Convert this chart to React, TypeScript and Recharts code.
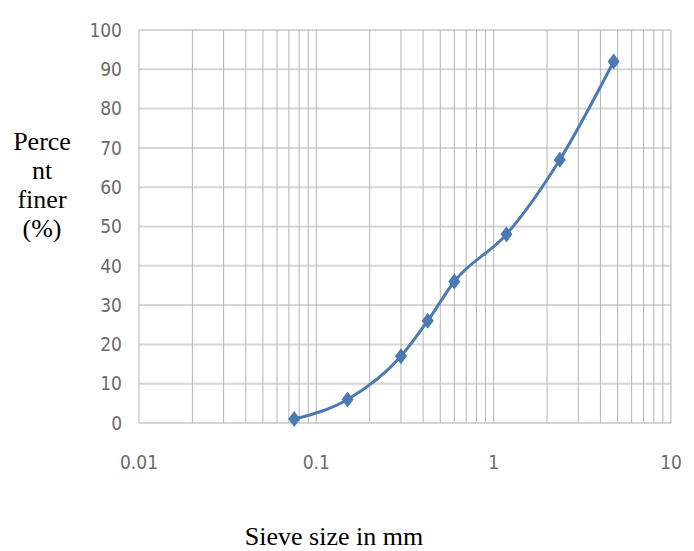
import { LineChart, Line, XAxis, YAxis, CartesianGrid } from "recharts"

// sieve analysis values
const SIEVE_SIZES = [0.075, 0.15, 0.3, 0.425, 0.6, 1.18, 2.36, 4.75]
const PERCENT_FINER = [1, 6, 17, 26, 36, 48, 67, 92]

const X_TICKS = [
  0.01, 0.02, 0.03, 0.04, 0.05, 0.06, 0.07, 0.08, 0.09,
  0.1, 0.2, 0.3, 0.4, 0.5, 0.6, 0.7, 0.8, 0.9,
  1, 2, 3, 4, 5, 6, 7, 8, 9,
  10,
]
const X_LABELS = ["0.01", "0.1", "1", "10"]
const Y_TICKS = [0, 10, 20, 30, 40, 50, 60, 70, 80, 90, 100]

const data = SIEVE_SIZES.map((size, i) => ({ size, finer: PERCENT_FINER[i] }))

const LINE_COLOR = "#4b79b1"
const TICK_STYLE = {
  fill: "#6b6b6b",
  fontSize: 19,
  fontFamily: "'DejaVu Sans Condensed', 'Liberation Sans Narrow', sans-serif",
}

function Diamond(props: any) {
  const { cx, cy, index } = props
  if (cx == null || cy == null) return null
  const w = 6
  const h = 8
  return (
    <path
      key={`d-${index}`}
      d={`M${cx},${cy - h} L${cx + w},${cy} L${cx},${cy + h} L${cx - w},${cy} Z`}
      fill={LINE_COLOR}
    />
  )
}

const fmtX = (v: number) => {
  const s = String(v)
  return X_LABELS.includes(s) ? s : ""
}

export default function App() {
  return (
    <div style={{ position: "absolute", left: 0, top: 0, width: 694, height: 551, background: "#fff" }}>
      <LineChart
        width={694}
        height={551}
        data={data}
        margin={{ top: 30, right: 23, bottom: 88, left: 99 }}
      >
        <CartesianGrid vertical={false} stroke="#d6d6d6" strokeWidth={2} />
        <CartesianGrid horizontal={false} stroke="#b4b4b4" strokeWidth={1} />
        <XAxis
          dataKey="size"
          type="number"
          scale="log"
          domain={[0.01, 10]}
          ticks={X_TICKS}
          tickFormatter={fmtX}
          allowDataOverflow
          axisLine={false}
          tickLine={false}
          tickSize={0}
          tickMargin={33}
          height={40}
          interval={0}
          tick={TICK_STYLE}
        />
        <YAxis
          type="number"
          domain={[0, 100]}
          ticks={Y_TICKS}
          width={40}
          axisLine={false}
          tickLine={false}
          tickSize={0}
          tickMargin={17}
          interval={0}
          tick={TICK_STYLE}
        />
        <Line
          dataKey="finer"
          type="monotone"
          stroke={LINE_COLOR}
          strokeWidth={3}
          dot={<Diamond />}
          activeDot={false}
          isAnimationActive={false}
        />
      </LineChart>
      <div
        style={{
          position: "absolute",
          left: 2,
          top: 127,
          width: 80,
          textAlign: "center",
          fontFamily: "'Liberation Serif', 'Times New Roman', serif",
          fontSize: 26,
          lineHeight: "29px",
          color: "#000",
        }}
      >
        <div>Perce</div>
        <div>nt</div>
        <div>finer</div>
        <div>(%)</div>
      </div>
      <div
        style={{
          position: "absolute",
          left: 184,
          top: 522,
          width: 300,
          textAlign: "center",
          fontFamily: "'Liberation Serif', 'Times New Roman', serif",
          fontSize: 26,
          lineHeight: "30px",
          color: "#000",
        }}
      >
        Sieve size in mm
      </div>
    </div>
  )
}
